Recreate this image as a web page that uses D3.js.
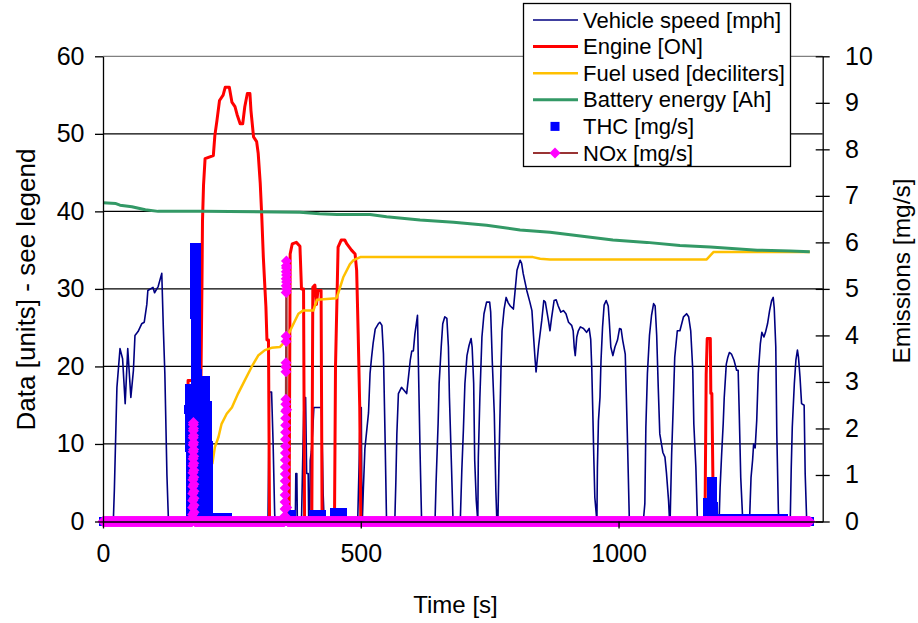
<!DOCTYPE html>
<html>
<head>
<meta charset="utf-8">
<script src="https://cdn.jsdelivr.net/npm/d3@7/dist/d3.min.js"></script>
<style>
  body { margin: 0; background: #fff; }
  text { font-family: "Liberation Sans", Arial, sans-serif; fill: #000; }
</style>
</head>
<body>
<svg id="chart" width="918" height="623"></svg>
<script>
// ---- drive-cycle log ------------------------------------------------------
// Vehicle speed [mph] : [time s, value]
const speed = [
  [0,0],[20,0],[22,4],[25,12],[27,17.3],[33,22.3],[38,21],[43,15.2],[48,22.3],[54,16],[59,19.5],[62,24],[68,24.5],[75,25.5],[80,25.7],[85,28],[87,29.8],[97,30.2],[100,29.5],[107,30.3],[114,32],[117,25],[120,19],[124,6],[127,0],
  [320,0],[322,12],[323,16.7],[327,16.7],[330,10],[333,1],[334,0],
  [373,0],[374,6.2],[376,6.2],[377,0],[385,0],[388,10],[390,16],[393,16],[395,6.2],[398,6.2],[399,0],[401,0],[402,7.9],[404,9],[407,12],[409,14.7],[424,14.7],[427,3.6],[429,0],
  [494,0],[497,8],[499,14.7],[501,14.7],[502,4.4],[503,0],
  [505,4.2],[508,9.4],[515,14],[518,19.1],[521,21.2],[524,23],[528,24.8],[534,25.5],[537,25.7],[541,25.3],[544,21.6],[547,11.3],[550,0],
  [566,0],[568,5],[570,11.3],[573,16.5],[579,17.3],[583,17],[589,16.5],[592,18.3],[596,20.8],[599,22],[602,22],[605,24.2],[610,26.6],[612,19.5],[615,9],[618,0],
  [644,0],[646,4.9],[650,12.6],[652,17.8],[656,22.5],[659,25.5],[663,26.4],[667,26.2],[670,22.5],[672,16],[676,7],[679,0],
  [693,0],[696,6.6],[699,11.7],[702,17.8],[706,21.4],[710,22.7],[714,23.6],[716,22.5],[719,17.8],[721,7.9],[724,2.7],[727,0],
  [728,8.3],[731,16],[735,23.8],[739,26.8],[744,28.3],[750,28.3],[752,27],[755,20.8],[759,13.9],[762,4],[764,0],
  [766,0],[768,7.4],[772,19.9],[774,24.6],[778,27.4],[782,28.9],[786,28.2],[790,27.8],[796,27.4],[799,29.5],[803,32.4],[809,33.7],[812,33.3],[815,32],[822,29.8],[828,28.3],[832,27.2],[835,24],[838,21],[840,19.3],[845,22.7],[851,25.9],[855,28.5],[858,28.3],[864,25.9],[867,24.6],[870,26.2],[875,28.5],[879,28.6],[883,27.8],[888,27],[893,27.2],[898,26.8],[903,25.7],[909,25.3],[912,24.6],[914,22.5],[916,21.4],[919,23.8],[922,24.6],[926,25.1],[932,24.9],[938,24.4],[943,24.9],[946,23.5],[948,19.9],[950,14.3],[952,8.3],[954,3.1],[958,0],
  [959,7],[961,13],[964,16],[966,20.8],[969,25.1],[972,27.9],[976,28.5],[980,27.8],[982,25.9],[985,22.5],[989,21.4],[993,22.5],[998,23.4],[1002,24.9],[1005,24.8],[1008,23.4],[1013,21.6],[1015,16.5],[1017,11.3],[1019,5.7],[1021,0],
  [1048,0],[1051,2.3],[1053,12.2],[1056,19.1],[1060,24],[1064,26.6],[1068,28.1],[1071,27.8],[1074,24],[1077,17.3],[1080,11.3],[1086,8.9],[1090,8.3],[1093,6.2],[1097,2.7],[1099,0],
  [1100,0],[1103,8.7],[1106,14.7],[1109,21.2],[1114,24.6],[1119,24.6],[1126,26.4],[1132,26.8],[1136,26.4],[1140,24.6],[1144,19.5],[1146,12.6],[1150,7],[1153,0],
  [1195,0],[1197,4.4],[1200,8.7],[1203,12.6],[1205,16],[1209,20.3],[1212,21.2],[1215,21.8],[1219,21.6],[1224,20.8],[1229,19.5],[1232,19.5],[1234,14.3],[1237,5.7],[1241,0],
  [1254,0],[1257,5.7],[1260,7.9],[1262,10],[1265,9.5],[1268,13],[1271,19.1],[1275,22.9],[1278,24.4],[1282,23.8],[1285,24.4],[1289,25.5],[1293,27.2],[1297,28.5],[1300,28.9],[1302,27.5],[1305,22.5],[1307,11.3],[1310,1.4],[1311,0],
  [1333,0],[1335,7],[1337,12.2],[1341,17.8],[1344,20.8],[1347,22.1],[1349,21.2],[1352,18.6],[1355,15.2],[1360,15],[1362,6.2],[1365,0],[1371,0]
];

// Engine [ON] trace : [time s, value]
const engine = [
  [0,0],[164,0],[165,18.2],[190,18.2],[192,31],[193,38.8],[195,43.4],[198,46.8],[214,47.2],[217,49.8],[221,51.7],[226,54.3],[233,55],[237,56],[245,56],[250,54.1],[256,53.5],[260,52.5],[266,51.3],[271,51.3],[275,53.5],[280,55.2],[285,55.2],[287,53],[292,49.6],[298,49],[301,47.5],[305,43.6],[308,39.3],[311,34.1],[314,30.2],[316,27.7],[318,23.4],[321,23.4],[323,0],
  [361,0],[363,34.5],[367,35.8],[375,36],[382,35.5],[385,30],[389,30],[391,0],
  [405,0],[407,30.2],[411,30.5],[414,28],[417,29.8],[423,29.8],[425,0],
  [449,0],[451,20],[456,35.4],[462,36.3],[469,36.3],[473,35.8],[482,35],[489,34.5],[492,32.4],[495,24.2],[498,14.7],[500,0],
  [1167,0],[1168,2.7],[1170,19],[1172,23.6],[1178,23.6],[1179,16.5],[1181,16.5],[1183,5.7],[1184,0],[1371,0]
];

// Fuel used [deciliters] : [time s, value]
const fuel = [
  [212,7.4],[217,9.6],[224,10.9],[230,12.6],[240,13.9],[250,14.7],[262,16.5],[275,18.2],[288,19.9],[301,21.4],[314,22.1],[327,22.4],[343,22.5],[350,23.0],[360,24.2],[379,26.8],[388,27.2],[408,27.2],[415,28.6],[453,28.8],[457,29.6],[466,31.5],[479,33.2],[486,33.7],[499,34.1],[834,34.1],[848,33.9],[867,33.8],[1171,33.8],[1184,34.75],[1371,34.75]
];

// Battery energy [Ah] : [time s, value]
const battery = [
  [0,41.1],[25,41.0],[33,40.8],[56,40.6],[82,40.2],[107,40.0],[194,40.0],[382,39.9],[420,39.7],[454,39.6],[518,39.6],[550,39.3],[615,38.9],[680,38.6],[744,38.2],[809,37.6],[867,37.3],[989,36.3],[1055,36.0],[1119,35.6],[1178,35.4],[1269,35.0],[1333,34.9],[1371,34.8]
];

// THC [mg/s], once-a-second level: [first s, last s, value]
const thcRuns = [
  [166,166,2.4],[167,177,2.86],[178,181,5.89],[182,199,3.04],[200,203,2.5],[204,204,1.64],[205,205,0.3],[206,241,0.09],
  [357,365,0.16],[409,423,0.14],[449,449,0.1],[450,464,0.19],[465,465,0.1],
  [1172,1179,0.4],[1180,1183,0.87],[1184,1320,0.06]
];
// THC fast (10 Hz) readings inside the bursts: start s, step s, values
const thcFast = [
  { t: 168.0, dt: 0.1, v: [2.86,2.68,2.5,2.32,2.14,1.96,1.78,1.6,1.42,1.24,1.06,0.88,0.7,0.52,0.34,0.16] },
  { t: 177.6, dt: 0.1, v: [5.89,5.71,5.53,5.35,5.17,4.99,4.81,4.63,4.45,4.27,4.09,3.91,3.73,3.55,3.37,3.19,3.01,2.83,2.65,2.47,2.29,2.11,1.93,1.75,1.57,1.39,1.21,1.03,0.85,0.67,0.49,0.31,0.13] },
  { t: 181.0, dt: 0.1, v: [5.71,5.53,5.35,5.17,4.99,4.81,4.63,4.45,4.27,4.09,3.91,3.73,3.55,3.37,3.19] },
  { t: 190.0, dt: 0.1, v: [3.04,2.86,2.68,2.5,2.32,2.14,1.96,1.78,1.6,1.42,1.24,1.06,0.88,0.7,0.52,0.34,0.16] },
  { t: 198.4, dt: 0.1, v: [3.04,2.86,2.68,2.5,2.32,2.14,1.96,1.78,1.6,1.42,1.24,1.06,0.88,0.7,0.52,0.34,0.16] },
  { t: 203.0, dt: 0.1, v: [2.5,2.32,2.14,1.96,1.78,1.6,1.42,1.24,1.06,0.88,0.7,0.52,0.34,0.16] },
  { t: 204.0, dt: 0.1, v: [1.64,1.46,1.28,1.1,0.92,0.74,0.56,0.38,0.2] },
  { t: 1172.0, dt: 0.1, v: [0.4,0.22] },
  { t: 1180.0, dt: 0.1, v: [0.87,0.69,0.51,0.33,0.15] },
  { t: 1183.0, dt: 0.1, v: [0.87,0.69,0.51,0.33,0.15] }
];

// NOx [mg/s] fast readings inside the bursts; every other logged second reads 0
const noxFast = [
  { t: 174.0, dt: 0.1, v: [0.15,0.3,0.45,0.6,0.75,0.9,1.05,1.2,1.35,1.5,1.65,1.8,1.95,2.08,2.13,2.0,1.85,1.7,1.55,1.4,1.25,1.1,0.95,0.8,0.65,0.5,0.35,0.2] },
  { t: 353.0, dt: 0.1, v: [0.12,0.27,0.42,0.57,0.72,0.87,1.02,1.17,1.32,1.47,1.62,1.77,1.92,2.07,2.22,2.37,2.52,2.63,3.22,3.32,3.41,3.87,3.98,4.92,5.07,5.22,5.37,5.5,5.6,5.45,5.3,5.15,5.0,2.4,0.3] }
];

const logEnd = 1371;                       // last logged second
const xTicks = [0, 500, 1000];
const leftTicks = [0, 10, 20, 30, 40, 50, 60];
const rightTicks = [0, 1, 2, 3, 4, 5, 6, 7, 8, 9, 10];

const legendItems = [
  { label: "Vehicle speed [mph]",      kind: "line",    color: "#000080", width: 1.6 },
  { label: "Engine [ON]",              kind: "line",    color: "#ff0000", width: 3 },
  { label: "Fuel used [deciliters]",   kind: "line",    color: "#ffc000", width: 2.5 },
  { label: "Battery energy [Ah]",      kind: "line",    color: "#339966", width: 3 },
  { label: "THC [mg/s]",               kind: "square",  color: "#0000ff" },
  { label: "NOx [mg/s]",               kind: "diamond", color: "#ff00ff", line: "#993333" }
];

// ---- layout ---------------------------------------------------------------
const plot = { left: 103, right: 822.7, top: 56.3, bottom: 521.5 };
const svg = d3.select("#chart");

const x  = d3.scaleLinear().domain([0, 1396]).range([plot.left, plot.right]);
const yL = d3.scaleLinear().domain([0, 60]).range([plot.bottom, plot.top]);
const yR = d3.scaleLinear().domain([0, 10]).range([plot.bottom, plot.top]);

const expand = b => b.v.map((v, i) => [b.t + i * b.dt, v]);

// THC samples: the fast readings, the per-second levels, and zeros elsewhere
function thcSeries() {
  const pts = [];
  const covered = new Set();
  thcRuns.forEach(([a, b, v]) => { for (let t = a; t <= b; t++) { pts.push([t, v]); covered.add(t); } });
  thcFast.forEach(b => pts.push(...expand(b)));
  for (let t = 0; t <= logEnd; t++) if (!covered.has(t)) pts.push([t, 0]);
  return pts.sort((p, q) => p[0] - q[0]);
}
// NOx samples: the fast readings plus zeros on every other logged second
function noxSeries() {
  const pts = [];
  const spans = noxFast.map(b => [b.t, b.t + (b.v.length - 1) * b.dt]);
  noxFast.forEach(b => pts.push(...expand(b)));
  for (let t = 0; t <= logEnd; t++) {
    if (!spans.some(([a, b]) => t >= Math.floor(a) && t <= Math.ceil(b))) pts.push([t, 0]);
  }
  return pts.sort((p, q) => p[0] - q[0]);
}

// ---- gridlines & frame ----------------------------------------------------
svg.append("g").selectAll("line")
  .data(leftTicks.filter(d => d > 0 && d < 60))
  .join("line")
  .attr("x1", plot.left).attr("x2", plot.right)
  .attr("y1", d => yL(d)).attr("y2", d => yL(d))
  .attr("stroke", "#000").attr("stroke-width", 1.2);
svg.append("line")
  .attr("x1", plot.left).attr("x2", plot.right)
  .attr("y1", yL(60)).attr("y2", yL(60))
  .attr("stroke", "#808080").attr("stroke-width", 1.2);

// ---- series ---------------------------------------------------------------
const lineL = d3.line().x(d => x(d[0])).y(d => yL(d[1]));
const lineR = d3.line().x(d => x(d[0])).y(d => yR(d[1]));

svg.append("path").datum(speed).attr("d", lineL)
  .attr("fill", "none").attr("stroke", "#000080").attr("stroke-width", 1.6).attr("stroke-linejoin", "round");
svg.append("path").datum(engine).attr("d", lineL)
  .attr("fill", "none").attr("stroke", "#ff0000").attr("stroke-width", 3).attr("stroke-linejoin", "round");
svg.append("path").datum(fuel).attr("d", lineL)
  .attr("fill", "none").attr("stroke", "#ffc000").attr("stroke-width", 2.5).attr("stroke-linejoin", "round");
svg.append("path").datum(battery).attr("d", lineL)
  .attr("fill", "none").attr("stroke", "#339966").attr("stroke-width", 3).attr("stroke-linejoin", "round");

const sq = 9;
svg.append("g").attr("shape-rendering", "crispEdges").selectAll("rect").data(thcSeries()).join("rect")
  .attr("x", d => x(d[0]) - sq / 2).attr("y", d => yR(d[1]) - sq / 2)
  .attr("width", sq).attr("height", sq).attr("fill", "#0000ff");

const nox = noxSeries();
svg.append("path").datum(nox).attr("d", lineR)
  .attr("fill", "none").attr("stroke", "#993333").attr("stroke-width", 2);
const diamond = "M0,-5.5L5.5,0L0,5.5L-5.5,0Z";
svg.append("g").selectAll("path").data(nox).join("path")
  .attr("transform", d => `translate(${x(d[0])},${yR(d[1])})`)
  .attr("d", diamond).attr("fill", "#ff00ff");

// ---- axes -----------------------------------------------------------------
const tickFont = "25px";
const gL = svg.append("g").attr("transform", `translate(${plot.left},0)`)
  .call(d3.axisLeft(yL).tickValues(leftTicks).tickSize(8).tickSizeOuter(0).tickPadding(10.5));
const gR = svg.append("g").attr("transform", `translate(${plot.right},0)`)
  .call(d3.axisRight(yR).tickValues(rightTicks).tickSize(7).tickSizeOuter(0).tickPadding(15.3));
gR.selectAll(".tick line").attr("x1", -7).attr("x2", 7);
const gX = svg.append("g").attr("transform", `translate(0,${plot.bottom})`)
  .call(d3.axisBottom(x).tickValues(xTicks).tickFormat(d3.format("d"))
    .tickSize(7).tickSizeOuter(0).tickPadding(16));

[gL, gR, gX].forEach(g => {
  g.select(".domain").attr("stroke", "#000").attr("stroke-width", 1.3);
  g.selectAll(".tick line").attr("stroke", "#000").attr("stroke-width", 1.3);
  g.selectAll("text").style("font-size", tickFont).attr("fill", "#000")
    .style("font-family", '"Liberation Sans", Arial, sans-serif');
});

// ---- axis titles ----------------------------------------------------------
svg.append("text").attr("transform", "translate(26,289.5) rotate(-90)")
  .attr("text-anchor", "middle").attr("dominant-baseline", "central")
  .style("font-size", "26px").text("Data [units] - see legend");
svg.append("text").attr("transform", "translate(901,271) rotate(-90)")
  .attr("text-anchor", "middle").attr("dominant-baseline", "central")
  .style("font-size", "24.5px").text("Emissions [mg/s]");
svg.append("text").attr("x", 455.5).attr("y", 604)
  .attr("text-anchor", "middle").attr("dominant-baseline", "central")
  .style("font-size", "24px").text("Time [s]");

// ---- legend ---------------------------------------------------------------
const lg = svg.append("g");
lg.append("rect").attr("x", 523.5).attr("y", 3.5).attr("width", 267).attr("height", 163)
  .attr("fill", "#fff").attr("stroke", "#000").attr("stroke-width", 1.3);
const rows = lg.selectAll("g.row").data(legendItems).join("g")
  .attr("class", "row")
  .attr("transform", (d, i) => `translate(0,${20 + i * 26.6})`);
rows.filter(d => d.kind === "line").append("line")
  .attr("x1", 533).attr("x2", 578).attr("y1", 0).attr("y2", 0)
  .attr("stroke", d => d.color).attr("stroke-width", d => d.width);
rows.filter(d => d.kind === "square").append("rect")
  .attr("x", 555 - sq / 2).attr("y", -sq / 2).attr("width", sq).attr("height", sq)
  .attr("fill", d => d.color);
const dRow = rows.filter(d => d.kind === "diamond");
dRow.append("line").attr("x1", 533).attr("x2", 578).attr("y1", 0).attr("y2", 0)
  .attr("stroke", d => d.line).attr("stroke-width", 2);
dRow.append("path").attr("transform", "translate(555,0)").attr("d", diamond)
  .attr("fill", d => d.color);
rows.append("text").attr("x", 583).attr("y", 0).attr("dominant-baseline", "central")
  .style("font-size", "22px").text(d => d.label);
</script>
</body>
</html>
